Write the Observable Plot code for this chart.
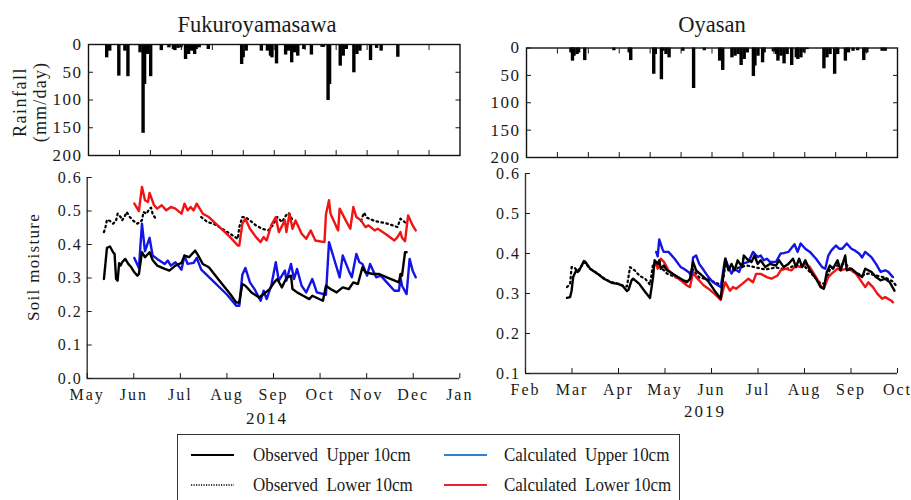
<!DOCTYPE html>
<html><head><meta charset="utf-8">
<script src="https://cdn.jsdelivr.net/npm/d3@7"></script>
<script src="https://cdn.jsdelivr.net/npm/@observablehq/plot@0.6"></script>
<style>
body{margin:0;background:#fff;}
#root{position:relative;width:911px;height:500px;overflow:hidden;font-family:"Liberation Serif","Times New Roman",serif;color:#1a1a1a;background:#fff}
#root svg{position:absolute;overflow:visible}
#root svg text{letter-spacing:1.5px}
#root svg g[aria-label="x-axis tick label"] text{letter-spacing:2px}
.lbl{position:absolute;white-space:pre;line-height:1}
.rot{transform:translate(-50%,-50%) rotate(-90deg)}
.ctr{transform:translate(-50%,-50%)}
</style></head><body><div id="root"></div><script>
// ---------- data ----------
const rain2014 = [["2014-05-13",24],["2014-05-15",12],["2014-05-21",57],["2014-05-25",12],["2014-05-27",58],["2014-06-04",15],["2014-06-06",160],["2014-06-07",72],["2014-06-09",18],["2014-06-11",58],["2014-06-18",11],["2014-06-23",6],["2014-06-26",9],["2014-06-27",11],["2014-06-29",7],["2014-07-01",6],["2014-07-04",27],["2014-07-06",18],["2014-07-08",12],["2014-07-10",18],["2014-07-11",9],["2014-07-13",6],["2014-07-19",9],["2014-08-10",36],["2014-08-11",24],["2014-08-13",12],["2014-08-23",12],["2014-08-27",12],["2014-08-29",21],["2014-08-30",24],["2014-09-02",35],["2014-09-08",19],["2014-09-10",12],["2014-09-12",33],["2014-09-14",15],["2014-09-16",21],["2014-09-20",9],["2014-09-25",19],["2014-10-02",5],["2014-10-03",5],["2014-10-06",101],["2014-10-07",72],["2014-10-14",39],["2014-10-16",21],["2014-10-18",9],["2014-10-23",51],["2014-10-25",18],["2014-10-27",12],["2014-11-03",29],["2014-11-07",7],["2014-11-10",12],["2014-11-21",23]];

const rain2019 = [["2019-03-02",9],["2019-03-03",24],["2019-03-04",15],["2019-03-06",12],["2019-03-07",9],["2019-03-11",23],["2019-03-30",5],["2019-04-09",9],["2019-04-10",23],["2019-04-25",48],["2019-04-26",12],["2019-04-30",58],["2019-05-01",6],["2019-05-03",12],["2019-05-05",18],["2019-05-14",6],["2019-05-21",74],["2019-05-28",5],["2019-06-07",24],["2019-06-09",41],["2019-06-15",18],["2019-06-17",15],["2019-06-19",12],["2019-06-21",32],["2019-06-23",21],["2019-06-25",9],["2019-06-29",52],["2019-06-30",33],["2019-07-02",15],["2019-07-05",27],["2019-07-06",9],["2019-07-12",7],["2019-07-14",12],["2019-07-15",24],["2019-07-17",15],["2019-07-19",29],["2019-07-21",12],["2019-07-24",32],["2019-07-27",18],["2019-07-28",21],["2019-07-30",18],["2019-08-01",9],["2019-08-03",3],["2019-08-14",38],["2019-08-16",18],["2019-08-18",12],["2019-08-21",48],["2019-08-23",12],["2019-08-28",24],["2019-08-30",9],["2019-09-02",6],["2019-09-05",5],["2019-09-09",23],["2019-09-11",9],["2019-09-21",6],["2019-09-23",6]];

const obsUpper2014 = [["2014-05-12",0.297],["2014-05-14",0.39],["2014-05-16",0.394],["2014-05-18",0.377],["2014-05-19",0.372],["2014-05-20",0.297],["2014-05-21",0.292],["2014-05-22",0.344],["2014-05-23",0.337],["2014-05-24",0.347],["2014-05-26",0.357],["2014-05-28",0.342],["2014-05-30",0.332],["2014-06-01",0.317],["2014-06-03",0.307],["2014-06-04",0.312],["2014-06-06",0.377],["2014-06-08",0.362],["2014-06-11",0.377],["2014-06-13",0.354],["2014-06-16",0.337],["2014-06-21",0.327],["2014-06-24",0.322],["2014-06-28",0.337],["2014-07-02",0.345],["2014-07-04",0.367],["2014-07-07",0.362],["2014-07-11",0.382],["2014-07-13",0.367],["2014-07-16",0.342],["2014-07-20",0.332],["2014-07-27",0.292],["2014-08-03",0.252],["2014-08-07",0.227],["2014-08-09",0.227],["2014-08-11",0.282],["2014-08-13",0.277],["2014-08-17",0.257],["2014-08-22",0.242],["2014-08-25",0.252],["2014-08-29",0.267],["2014-09-01",0.287],["2014-09-03",0.297],["2014-09-06",0.272],["2014-09-09",0.30],["2014-09-12",0.307],["2014-09-13",0.267],["2014-09-16",0.257],["2014-09-20",0.247],["2014-09-24",0.237],["2014-09-26",0.247],["2014-10-03",0.232],["2014-10-05",0.277],["2014-10-08",0.267],["2014-10-12",0.257],["2014-10-16",0.272],["2014-10-20",0.267],["2014-10-23",0.287],["2014-10-26",0.282],["2014-10-29",0.332],["2014-10-31",0.317],["2014-11-05",0.312],["2014-11-09",0.312],["2014-11-14",0.302],["2014-11-22",0.287],["2014-11-23",0.312],["2014-11-24",0.307],["2014-11-26",0.377],["2014-11-27",0.377]];

const obsLower2014 = [["2014-05-12",0.437],["2014-05-13",0.452],["2014-05-14",0.474],["2014-05-16",0.47],["2014-05-18",0.462],["2014-05-20",0.472],["2014-05-21",0.492],["2014-05-23",0.482],["2014-05-24",0.472],["2014-05-26",0.487],["2014-05-27",0.497],["2014-05-29",0.482],["2014-05-31",0.472],["2014-06-03",0.462],["2014-06-06",0.472],["2014-06-07",0.497],["2014-06-09",0.492],["2014-06-11",0.507],["2014-06-12",0.51],["2014-06-13",0.492],["2014-06-15",0.477],["2014-06-16",null],["2014-07-15",0.482],["2014-07-19",0.467],["2014-07-23",0.462],["2014-07-27",0.452],["2014-08-03",0.432],["2014-08-08",0.417],["2014-08-09",0.452],["2014-08-11",0.482],["2014-08-13",0.482],["2014-08-16",0.472],["2014-08-20",0.457],["2014-08-24",0.447],["2014-08-28",0.442],["2014-08-31",0.457],["2014-09-03",0.482],["2014-09-06",0.467],["2014-09-08",0.482],["2014-09-10",0.494],["2014-09-11",0.492],["2014-09-13",0.472],["2014-09-14",null],["2014-10-28",0.47],["2014-10-30",0.495],["2014-11-01",0.48],["2014-11-05",0.472],["2014-11-09",0.467],["2014-11-13",0.464],["2014-11-18",0.457],["2014-11-21",0.452],["2014-11-23",0.477],["2014-11-25",0.47],["2014-11-27",0.462]];

const calUpper2014 = [["2014-06-01",0.36],["2014-06-04",0.33],["2014-06-06",0.462],["2014-06-08",0.38],["2014-06-11",0.42],["2014-06-13",0.367],["2014-06-16",0.357],["2014-06-21",0.342],["2014-06-23",0.352],["2014-06-25",0.337],["2014-06-28",0.347],["2014-07-02",0.325],["2014-07-04",0.367],["2014-07-06",0.342],["2014-07-10",0.345],["2014-07-12",0.36],["2014-07-15",0.325],["2014-07-23",0.29],["2014-08-01",0.25],["2014-08-07",0.217],["2014-08-09",0.217],["2014-08-11",0.31],["2014-08-13",0.33],["2014-08-16",0.287],["2014-08-19",0.267],["2014-08-23",0.232],["2014-08-25",0.262],["2014-08-27",0.237],["2014-08-30",0.277],["2014-09-02",0.347],["2014-09-04",0.292],["2014-09-08",0.322],["2014-09-09",0.292],["2014-09-12",0.342],["2014-09-14",0.297],["2014-09-16",0.327],["2014-09-19",0.277],["2014-09-22",0.257],["2014-09-26",0.297],["2014-09-29",0.257],["2014-10-05",0.25],["2014-10-07",0.407],["2014-10-10",0.362],["2014-10-14",0.302],["2014-10-16",0.367],["2014-10-20",0.322],["2014-10-22",0.302],["2014-10-25",0.372],["2014-10-27",0.347],["2014-10-29",0.342],["2014-11-01",0.307],["2014-11-03",0.342],["2014-11-07",0.302],["2014-11-10",0.307],["2014-11-14",0.287],["2014-11-19",0.262],["2014-11-22",0.262],["2014-11-23",0.302],["2014-11-24",0.277],["2014-11-27",0.252],["2014-11-29",0.357],["2014-12-01",0.322],["2014-12-03",0.302]];

const calLower2014 = [["2014-06-01",0.522],["2014-06-04",0.50],["2014-06-06",0.572],["2014-06-08",0.532],["2014-06-10",0.527],["2014-06-11",0.554],["2014-06-14",0.517],["2014-06-16",0.507],["2014-06-19",0.517],["2014-06-22",0.502],["2014-06-25",0.512],["2014-06-28",0.507],["2014-07-02",0.492],["2014-07-04",0.522],["2014-07-06",0.502],["2014-07-08",0.512],["2014-07-10",0.502],["2014-07-12",0.522],["2014-07-16",0.492],["2014-07-20",0.482],["2014-07-27",0.452],["2014-08-03",0.422],["2014-08-08",0.397],["2014-08-09",0.397],["2014-08-11",0.462],["2014-08-13",0.477],["2014-08-16",0.447],["2014-08-20",0.422],["2014-08-23",0.407],["2014-08-25",0.422],["2014-08-27",0.412],["2014-08-30",0.457],["2014-09-02",0.482],["2014-09-04",0.437],["2014-09-08",0.472],["2014-09-09",0.437],["2014-09-11",0.492],["2014-09-13",0.447],["2014-09-15",0.472],["2014-09-19",0.432],["2014-09-22",0.417],["2014-09-25",0.442],["2014-09-28",0.412],["2014-10-04",0.407],["2014-10-05",0.49],["2014-10-07",0.532],["2014-10-08",0.492],["2014-10-10",0.472],["2014-10-13",0.442],["2014-10-14",0.507],["2014-10-18",0.472],["2014-10-21",0.447],["2014-10-23",0.512],["2014-10-25",0.482],["2014-10-28",0.472],["2014-10-31",0.452],["2014-11-02",0.457],["2014-11-06",0.442],["2014-11-08",0.447],["2014-11-13",0.432],["2014-11-19",0.412],["2014-11-21",0.422],["2014-11-23",0.437],["2014-11-24",0.42],["2014-11-26",0.41],["2014-11-28",0.487],["2014-12-01",0.457],["2014-12-03",0.442]];

const obsUpper2019 = [["2019-02-28",0.289],["2019-03-02",0.291],["2019-03-03",0.307],["2019-03-04",0.341],["2019-03-06",0.358],["2019-03-07",0.354],["2019-03-08",0.358],["2019-03-11",0.381],["2019-03-12",0.379],["2019-03-15",0.362],["2019-03-20",0.349],["2019-03-24",0.337],["2019-03-29",0.327],["2019-04-02",0.324],["2019-04-05",0.32],["2019-04-08",0.306],["2019-04-09",0.309],["2019-04-11",0.333],["2019-04-12",0.337],["2019-04-16",0.324],["2019-04-20",0.303],["2019-04-23",0.289],["2019-04-25",0.341],["2019-04-26",0.383],["2019-04-28",0.374],["2019-04-29",0.383],["2019-04-30",0.362],["2019-05-02",0.37],["2019-05-04",0.358],["2019-05-06",0.354],["2019-05-08",0.349],["2019-05-13",0.337],["2019-05-17",0.328],["2019-05-19",0.337],["2019-05-21",0.379],["2019-05-23",0.358],["2019-05-28",0.341],["2019-05-31",0.33],["2019-06-04",0.307],["2019-06-08",0.287],["2019-06-09",0.324],["2019-06-11",0.387],["2019-06-13",0.358],["2019-06-15",0.374],["2019-06-17",0.358],["2019-06-19",0.383],["2019-06-22",0.366],["2019-06-23",0.395],["2019-06-26",0.383],["2019-06-28",0.379],["2019-06-30",0.395],["2019-07-02",0.374],["2019-07-04",0.383],["2019-07-07",0.366],["2019-07-10",0.374],["2019-07-14",0.37],["2019-07-16",0.383],["2019-07-19",0.366],["2019-07-22",0.374],["2019-07-25",0.387],["2019-07-27",0.366],["2019-07-29",0.387],["2019-07-31",0.366],["2019-08-02",0.383],["2019-08-05",0.358],["2019-08-09",0.337],["2019-08-12",0.316],["2019-08-14",0.312],["2019-08-16",0.354],["2019-08-18",0.37],["2019-08-20",0.362],["2019-08-23",0.383],["2019-08-25",0.358],["2019-08-28",0.395],["2019-08-29",0.358],["2019-09-01",0.362],["2019-09-05",0.349],["2019-09-08",0.341],["2019-09-10",0.362],["2019-09-14",0.354],["2019-09-17",0.341],["2019-09-20",0.333],["2019-09-23",0.337],["2019-09-26",0.328],["2019-09-29",0.307]];

const obsLower2019 = [["2019-02-28",0.316],["2019-03-02",0.324],["2019-03-03",0.366],["2019-03-05",0.364],["2019-03-07",0.356],["2019-03-09",0.366],["2019-03-11",0.379],["2019-03-15",0.362],["2019-03-20",0.35],["2019-03-24",0.338],["2019-03-29",0.328],["2019-04-02",0.325],["2019-04-06",0.318],["2019-04-08",0.318],["2019-04-10",0.366],["2019-04-13",0.358],["2019-04-16",0.345],["2019-04-20",0.336],["2019-04-23",0.322],["2019-04-25",0.374],["2019-04-29",0.37],["2019-05-04",0.35],["2019-05-10",0.34],["2019-05-15",0.33],["2019-05-19",0.335],["2019-05-21",0.36],["2019-05-25",0.34],["2019-05-31",0.335],["2019-06-06",0.325],["2019-06-09",0.32],["2019-06-11",0.37],["2019-06-15",0.36],["2019-06-20",0.365],["2019-06-25",0.37],["2019-07-01",0.365],["2019-07-07",0.36],["2019-07-14",0.365],["2019-07-20",0.36],["2019-07-26",0.37],["2019-08-01",0.37],["2019-08-06",0.35],["2019-08-12",0.325],["2019-08-15",0.325],["2019-08-18",0.36],["2019-08-23",0.37],["2019-08-28",0.375],["2019-09-02",0.355],["2019-09-08",0.345],["2019-09-12",0.35],["2019-09-17",0.345],["2019-09-23",0.34],["2019-09-28",0.33],["2019-09-30",0.32]];

const calUpper2019 = [["2019-04-27",0.404],["2019-04-28",0.393],["2019-04-29",0.435],["2019-05-01",0.412],["2019-05-02",0.404],["2019-05-05",0.404],["2019-05-09",0.387],["2019-05-13",0.366],["2019-05-15",0.362],["2019-05-18",0.354],["2019-05-20",0.345],["2019-05-21",0.39],["2019-05-23",0.395],["2019-05-25",0.374],["2019-05-28",0.358],["2019-05-31",0.341],["2019-06-03",0.328],["2019-06-08",0.316],["2019-06-10",0.366],["2019-06-11",0.387],["2019-06-13",0.366],["2019-06-15",0.35],["2019-06-17",0.362],["2019-06-20",0.354],["2019-06-22",0.374],["2019-06-26",0.379],["2019-06-29",0.404],["2019-07-02",0.391],["2019-07-04",0.395],["2019-07-06",0.383],["2019-07-08",0.387],["2019-07-10",0.379],["2019-07-14",0.379],["2019-07-17",0.40],["2019-07-19",0.401],["2019-07-22",0.404],["2019-07-26",0.423],["2019-07-28",0.404],["2019-07-30",0.425],["2019-08-02",0.412],["2019-08-05",0.404],["2019-08-09",0.387],["2019-08-13",0.366],["2019-08-15",0.362],["2019-08-17",0.395],["2019-08-19",0.408],["2019-08-22",0.42],["2019-08-24",0.412],["2019-08-26",0.412],["2019-08-29",0.425],["2019-09-01",0.412],["2019-09-03",0.408],["2019-09-06",0.40],["2019-09-08",0.39],["2019-09-10",0.404],["2019-09-14",0.391],["2019-09-17",0.374],["2019-09-20",0.354],["2019-09-23",0.358],["2019-09-25",0.354],["2019-09-28",0.341]];

const calLower2019 = [["2019-04-27",0.374],["2019-04-28",0.362],["2019-04-30",0.387],["2019-05-02",0.379],["2019-05-05",0.358],["2019-05-10",0.341],["2019-05-13",0.333],["2019-05-17",0.32],["2019-05-19",0.316],["2019-05-21",0.354],["2019-05-23",0.341],["2019-05-28",0.32],["2019-05-31",0.312],["2019-06-04",0.299],["2019-06-08",0.284],["2019-06-10",0.316],["2019-06-11",0.328],["2019-06-14",0.307],["2019-06-16",0.316],["2019-06-18",0.312],["2019-06-22",0.324],["2019-06-26",0.337],["2019-06-29",0.328],["2019-07-01",0.349],["2019-07-04",0.349],["2019-07-08",0.341],["2019-07-11",0.337],["2019-07-15",0.345],["2019-07-17",0.358],["2019-07-20",0.362],["2019-07-24",0.358],["2019-07-27",0.37],["2019-07-30",0.366],["2019-08-02",0.374],["2019-08-05",0.366],["2019-08-09",0.341],["2019-08-12",0.32],["2019-08-14",0.312],["2019-08-17",0.341],["2019-08-19",0.349],["2019-08-23",0.362],["2019-08-25",0.358],["2019-08-29",0.362],["2019-09-01",0.358],["2019-09-04",0.349],["2019-09-07",0.333],["2019-09-10",0.316],["2019-09-12",0.328],["2019-09-15",0.316],["2019-09-18",0.299],["2019-09-21",0.287],["2019-09-23",0.291],["2019-09-27",0.282],["2019-09-28",0.278]];

const months2014 = ["May","Jun","Jul","Aug","Sep","Oct","Nov","Dec","Jan"];
const months2019 = ["Feb","Mar","Apr","May","Jun","Jul","Aug","Sep","Oct"];
const domain2014 = ["2014-05-01","2015-01-01"];
const domain2019 = ["2019-02-01","2019-10-01"];
const rainTicks = [0,50,100,150,200];
const sm2014Ticks = [0,0.1,0.2,0.3,0.4,0.5,0.6];
const sm2019Ticks = [0.1,0.2,0.3,0.4,0.5,0.6];
const seriesNames = ["Observed  Upper 10cm","Observed  Lower 10cm","Calculated  Upper 10cm","Calculated  Lower 10cm"];

// ---------- helpers ----------
const root = document.getElementById("root");
const toRows = arr => arr.map(([d, v]) => ({date: new Date(d), v}));
const dom = ([a, b]) => [new Date(a), new Date(b)];
const evenTicks = (d, n) => d3.range(0, n + 1).map(k => new Date(+d[0] + k * (d[1] - d[0]) / n));

const COLORS = {obsU: "#000000", obsL: "#000000", calU: "#1414e6", calL: "#f01414"};

function place(svg, left, top) {
  svg.style.left = left + "px";
  svg.style.top = top + "px";
  root.appendChild(svg);
}

function rainPlot(rain, domainStr, cfg) {
  const d = dom(domainStr);
  const xt = evenTicks(d, 12).slice(1, -1);
  return Plot.plot({
    width: cfg.width, height: cfg.height,
    marginLeft: cfg.ml, marginRight: cfg.mr, marginTop: cfg.mt, marginBottom: cfg.mb,
    style: {fontFamily: "Liberation Serif, serif", fontSize: "17px", color: "#1a1a1a", background: "transparent"},
    x: {type: "utc", domain: d},
    y: {domain: [0, 200], reverse: true},
    marks: [
      Plot.ruleX(toRows(rain), {x: "date", y1: 0, y2: "v", stroke: "#000", strokeWidth: 3.4}),
      Plot.frame({stroke: "#111", strokeWidth: 1.4}),
      Plot.axisY({ticks: rainTicks, anchor: "left", tickSize: -5, tickPadding: 11, tickFormat: d3.format("d"), label: null, fontSize: 17}),
      Plot.axisY({ticks: rainTicks.slice(1, -1), anchor: "right", tickSize: -5, tickFormat: () => "", label: null}),
      Plot.axisX({ticks: xt, anchor: "bottom", tickSize: -5, tickFormat: () => "", label: null}),
      Plot.axisX({ticks: xt, anchor: "top", tickSize: -5, tickFormat: () => "", label: null})
    ]
  });
}

function smPlot(series, domainStr, months, yDomain, yTicks, cfg) {
  const d = dom(domainStr);
  const xt = evenTicks(d, months.length - 1);
  const lab = new Map(xt.map((t, i) => [+t, months[i]]));
  const [oU, oL, cU, cL] = series.map(toRows);
  return Plot.plot({
    width: cfg.width, height: cfg.height,
    marginLeft: cfg.ml, marginRight: cfg.mr, marginTop: cfg.mt, marginBottom: cfg.mb,
    style: {fontFamily: "Liberation Serif, serif", fontSize: "16px", color: "#1a1a1a", background: "transparent"},
    x: {type: "utc", domain: d},
    y: {domain: yDomain},
    marks: [
      Plot.line(oL, {x: "date", y: "v", stroke: COLORS.obsL, strokeWidth: 2.2, strokeDasharray: "1.6,3.4"}),
      Plot.line(cL, {x: "date", y: "v", stroke: COLORS.calL, strokeWidth: 2.4}),
      Plot.line(cU, {x: "date", y: "v", stroke: COLORS.calU, strokeWidth: 2.4}),
      Plot.line(oU, {x: "date", y: "v", stroke: COLORS.obsU, strokeWidth: 2.4}),
      Plot.ruleX([d[0]], {y1: yDomain[0], y2: yDomain[1], stroke: "#333", strokeWidth: 1.4}),
      Plot.ruleY([yDomain[0]], {x1: d[0], x2: d[1], stroke: "#333", strokeWidth: 1.4}),
      Plot.axisY({ticks: yTicks, anchor: "left", tickSize: -5, tickPadding: 10, tickFormat: d3.format(".1f"), label: null, fontSize: 16}),
      Plot.axisX({ticks: xt, anchor: "bottom", tickSize: -5, tickPadding: 15, tickFormat: t => lab.get(+t), label: null, fontSize: 16})
    ]
  });
}

// ---------- panels ----------
place(rainPlot(rain2014, domain2014, {width: 470, height: 165, ml: 88, mr: 10.5, mt: 44, mb: 10}), 0, 0);
place(rainPlot(rain2019, domain2019, {width: 451, height: 167, ml: 66, mr: 14, mt: 47.5, mb: 10}), 460, 0);
place(smPlot([obsUpper2014, obsLower2014, calUpper2014, calLower2014], domain2014, months2014, [0, 0.6], sm2014Ticks,
  {width: 470, height: 250, ml: 86.7, mr: 10.7, mt: 17, mb: 32}), 0, 160);
place(smPlot([obsUpper2019, obsLower2019, calUpper2019, calLower2019], domain2019, months2019, [0.1, 0.6], sm2019Ticks,
  {width: 451, height: 245, ml: 65, mr: 14, mt: 13, mb: 32}), 460, 160);

// ---------- text ----------
function label(text, x, y, size, cls, extra) {
  const el = document.createElement("div");
  el.className = "lbl " + cls;
  el.textContent = text;
  el.style.left = x + "px"; el.style.top = y + "px"; el.style.fontSize = size + "px";
  if (extra) Object.assign(el.style, extra);
  root.appendChild(el);
  return el;
}
label("Fukuroyamasawa", 257, 25, 23.5, "", {transform: "translate(-50%,-50%) scaleX(0.96)"});
label("Oyasan", 712, 25, 23.5, "", {transform: "translate(-50%,-50%) scaleX(0.96)"});
label("Rainfall", 20, 102, 18, "rot", {letterSpacing: "1.5px"});
label("(mm/day)", 40, 102, 18, "rot", {letterSpacing: "1.2px"});
label("Soil moisture", 33, 267, 17, "rot", {letterSpacing: "1.3px"});
label("2014", 267, 418, 17, "ctr", {letterSpacing: "2px"});
label("2019", 705, 411, 17, "ctr", {letterSpacing: "2px"});

// ---------- legend ----------
const box = document.createElement("div");
Object.assign(box.style, {position: "absolute", left: "177px", top: "434px", width: "501px", height: "90px", border: "1.5px solid #333"});
root.appendChild(box);
const legendItems = [
  {name: seriesNames[0], color: COLORS.obsU, dash: null, lx: 191, tx: 253, y: 455},
  {name: seriesNames[1], color: COLORS.obsL, dash: "1.2,1.3", lx: 191, tx: 253, y: 485},
  {name: seriesNames[2], color: "#2f7fd6", dash: null, lx: 444, tx: 504, y: 455},
  {name: seriesNames[3], color: "#e8262a", dash: null, lx: 444, tx: 504, y: 485}
];
const ns = "http://www.w3.org/2000/svg";
const lsvg = document.createElementNS(ns, "svg");
lsvg.setAttribute("width", 911); lsvg.setAttribute("height", 500);
lsvg.style.left = "0px"; lsvg.style.top = "0px";
for (const it of legendItems) {
  const ln = document.createElementNS(ns, "line");
  ln.setAttribute("x1", it.lx); ln.setAttribute("x2", it.lx + 43);
  ln.setAttribute("y1", it.y); ln.setAttribute("y2", it.y);
  ln.setAttribute("stroke", it.color);
  ln.setAttribute("stroke-width", it.dash ? 1.3 : 2);
  if (it.dash) ln.setAttribute("stroke-dasharray", it.dash);
  lsvg.appendChild(ln);
  label(it.name, it.tx, it.y, 19.5, "", {transform: "translateY(-52%) scaleX(0.87)", transformOrigin: "left center"});
}
root.appendChild(lsvg);
</script></body></html>
